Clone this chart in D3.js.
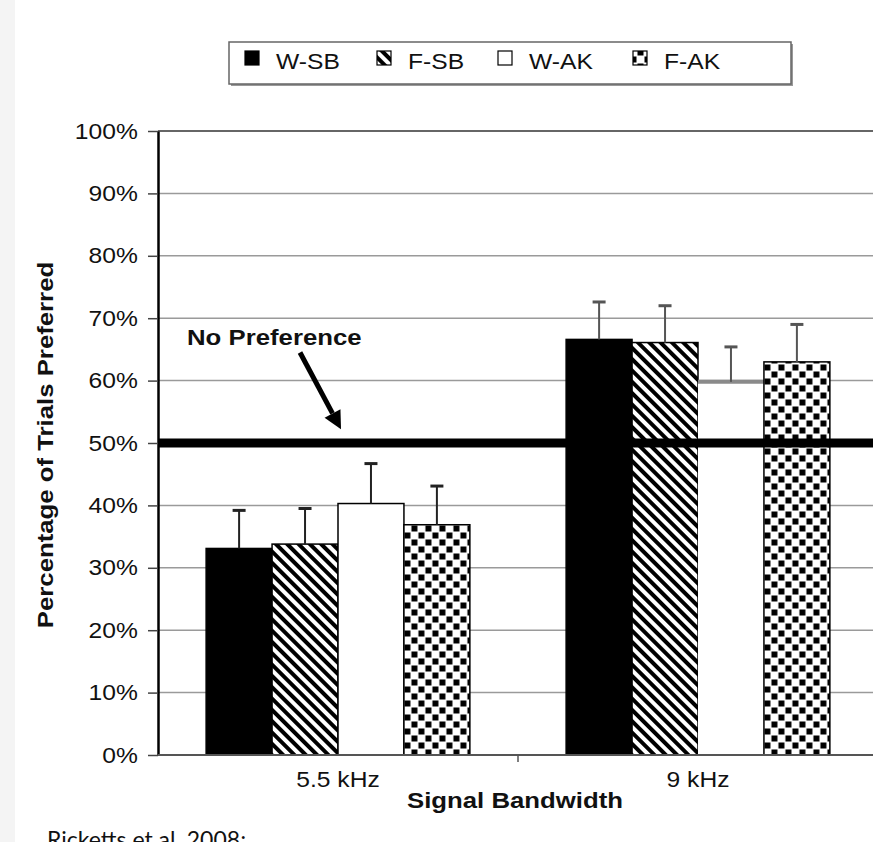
<!DOCTYPE html>
<html>
<head>
<meta charset="utf-8">
<script src="https://cdn.jsdelivr.net/npm/d3@7"></script>
<style>
	html, body { margin:0; padding:0; background:#fff; }
	svg { display:block; }
	text { font-family:"Liberation Sans", Arial, sans-serif; fill:#111; }
</style>
</head>
<body>
<svg id="chart" width="873" height="842"></svg>
<script>
	'use strict';

	// data (percent of trials preferred)
	var categories = ["5.5 kHz", "9 kHz"];
	var series = ["W-SB", "F-SB", "W-AK", "F-AK"];
	var wsbMean = [33.1, 66.6];
	var fsbMean = [33.8, 66.1];
	var wakMean = [40.3, 59.8];
	var fakMean = [36.9, 63.0];
	var wsbErr = [6.1, 6.0];
	var fsbErr = [5.7, 5.9];
	var wakErr = [6.4, 5.6];
	var fakErr = [6.2, 6.0];
	var yTicks = [0, 10, 20, 30, 40, 50, 60, 70, 80, 90, 100];
	var noPreference = 50;

	var means = { "W-SB": wsbMean, "F-SB": fsbMean, "W-AK": wakMean, "F-AK": fakMean };
	var errs = { "W-SB": wsbErr, "F-SB": fsbErr, "W-AK": wakErr, "F-AK": fakErr };

	var SX = 1.12; // the scan's lettering is a bit wider than Arial
	var m = { left:158, top:131, right:878, bottom:755 };

	var svg = d3.select("#chart");
	var defs = svg.append("defs");

	//patterns--------------------------------------------------
	var stripe = defs.append("pattern").attr("id", "stripe")
		.attr("patternUnits", "userSpaceOnUse").attr("width", 8).attr("height", 8)
		.attr("patternTransform", "rotate(-45)");
	stripe.append("rect").attr("width", 8).attr("height", 8).attr("fill", "#fff");
	stripe.append("rect").attr("width", 4).attr("height", 8).attr("fill", "#000");

	var check = defs.append("pattern").attr("id", "check")
		.attr("patternUnits", "userSpaceOnUse").attr("width", 14).attr("height", 14);
	check.append("rect").attr("width", 14).attr("height", 14).attr("fill", "#fff");
	check.append("rect").attr("x", 0.5).attr("y", 0.5).attr("width", 6).attr("height", 6).attr("fill", "#000");
	check.append("rect").attr("x", 7.5).attr("y", 7.5).attr("width", 6).attr("height", 6).attr("fill", "#000");

	var fills = { "W-SB": "#000", "F-SB": "url(#stripe)", "W-AK": "#fff", "F-AK": "url(#check)" };

	function label(g, x, y, str, size, weight, anchor, rot) {
		return g.append("text")
			.attr("transform", "translate(" + x + "," + y + ")" + (rot ? " rotate(" + rot + ")" : "") + " scale(" + SX + ",1)")
			.attr("text-anchor", anchor || "start")
			.style("font-size", size + "px")
			.style("font-weight", weight || "normal")
			.text(str);
	}

	// faint scan edge on the left
	svg.append("rect").attr("x", 0).attr("y", 0).attr("width", 15).attr("height", 842).attr("fill", "#f4f4f4");

	//scales--------------------------------------------------
	var x0 = d3.scaleBand().domain(categories).range([m.left, m.right]);
	var x1 = d3.scaleBand().domain(series).range([0, x0.bandwidth()]).paddingOuter(0.73);
	var y = d3.scaleLinear().domain([0, 100]).range([m.bottom, m.top]);

	//grid
	svg.append("g").selectAll("line").data(yTicks.filter(function(d) { return d > 0; }))
		.enter().append("line")
		.attr("x1", m.left).attr("x2", m.right)
		.attr("y1", function(d) { return y(d); }).attr("y2", function(d) { return y(d); })
		.attr("stroke", function(d) { return d === 100 ? "#666" : "#9a9a9a"; })
		.attr("stroke-width", function(d) { return d === 100 ? 2 : 1.5; });

	//bars
	var rows = [];
	categories.forEach(function(c, ci) {
		series.forEach(function(s) {
			rows.push({ cat:c, ci:ci, s:s, v:means[s][ci], e:errs[s][ci] });
		});
	});

	var bars = svg.append("g").selectAll("g").data(rows).enter().append("g")
		.attr("transform", function(d) { return "translate(" + (x0(d.cat) + x1(d.s)) + ",0)"; });

	bars.append("rect")
		.attr("y", function(d) { return y(d.v); })
		.attr("width", x1.bandwidth())
		.attr("height", function(d) { return y(0) - y(d.v); })
		.attr("fill", function(d) { return fills[d.s]; })
		.attr("stroke", function(d) { return (d.s === "W-AK" && d.ci === 1) ? "none" : "#000"; })
		.attr("stroke-width", 1.5);

	// the second white bar only shows a grey lid in the scan
	bars.filter(function(d) { return d.s === "W-AK" && d.ci === 1; }).append("line")
		.attr("x1", 0).attr("x2", x1.bandwidth())
		.attr("y1", function(d) { return y(d.v); }).attr("y2", function(d) { return y(d.v); })
		.attr("stroke", "#8a8a8a").attr("stroke-width", 4);

	//error bars
	var cx = x1.bandwidth() / 2;
	bars.append("line")
		.attr("x1", cx).attr("x2", cx)
		.attr("y1", function(d) { return y(d.v); })
		.attr("y2", function(d) { return y(d.v + d.e); })
		.attr("stroke", function(d) { return d.ci ? "#555" : "#222"; })
		.attr("stroke-width", 2);
	bars.append("line")
		.attr("x1", cx - 6.5).attr("x2", cx + 6.5)
		.attr("y1", function(d) { return y(d.v + d.e); })
		.attr("y2", function(d) { return y(d.v + d.e); })
		.attr("stroke", function(d) { return d.ci ? "#555" : "#222"; })
		.attr("stroke-width", 3);

	//no preference line
	svg.append("line")
		.attr("x1", m.left).attr("x2", m.right)
		.attr("y1", y(noPreference)).attr("y2", y(noPreference))
		.attr("stroke", "#000").attr("stroke-width", 9);

	//axes--------------------------------------------------
	var yAxis = svg.append("g").attr("transform", "translate(" + m.left + ",0)")
		.call(d3.axisLeft(y).tickValues(yTicks).tickFormat(function(d) { return d + "%"; })
			.tickSize(10).tickSizeOuter(0).tickPadding(8));
	yAxis.select(".domain").attr("stroke", "#000").attr("stroke-width", 2.5);
	yAxis.selectAll(".tick line").attr("stroke", "#444").attr("stroke-width", 1.5);
	yAxis.selectAll(".tick text")
		.attr("transform", "scale(" + SX + ",1)")
		.style("font-size", "22px").style("font-family", "Liberation Sans, Arial, sans-serif").attr("fill", "#222");

	var xg = svg.append("g");
	xg.append("line").attr("x1", m.left).attr("x2", m.right)
		.attr("y1", y(0)).attr("y2", y(0)).attr("stroke", "#555").attr("stroke-width", 2);
	xg.selectAll(".xt").data(categories.slice(1).map(function(c) { return x0(c); }))
		.enter().append("line").attr("class", "xt")
		.attr("x1", function(d) { return d; }).attr("x2", function(d) { return d; })
		.attr("y1", y(0)).attr("y2", y(0) + 7)
		.attr("stroke", "#555").attr("stroke-width", 1.5);
	categories.forEach(function(c) {
		label(xg, x0(c) + x0.bandwidth() / 2, 787, c, 22, "normal", "middle").attr("fill", "#222");
	});

	label(svg, 515, 808, "Signal Bandwidth", 23, "bold", "middle");
	label(svg, 53, (m.top + m.bottom) / 2 + 2, "Percentage of Trials Preferred", 23, "bold", "middle", -90);

	//annotation
	label(svg, m.left + 29, y(65.7), "No Preference", 23, "bold", "start");
	var tail = [m.left + 142, y(64.5)], tip = [m.left + 183, y(52.2)];
	var ang = Math.atan2(tip[1] - tail[1], tip[0] - tail[0]);
	var head = 18, half = 9;
	var base = [tip[0] - head * Math.cos(ang), tip[1] - head * Math.sin(ang)];
	svg.append("line")
		.attr("x1", tail[0]).attr("y1", tail[1]).attr("x2", base[0]).attr("y2", base[1])
		.attr("stroke", "#000").attr("stroke-width", 5);
	svg.append("path")
		.attr("d", d3.line()([
			tip,
			[base[0] + half * Math.sin(ang), base[1] - half * Math.cos(ang)],
			[base[0] - half * Math.sin(ang), base[1] + half * Math.cos(ang)]
		]) + "Z")
		.attr("fill", "#000");

	//legend--------------------------------------------------
	var lg = svg.append("g");
	lg.append("rect").attr("x", 231).attr("y", 44).attr("width", 562).attr("height", 42).attr("fill", "#999");
	lg.append("rect").attr("x", 229).attr("y", 42).attr("width", 562).attr("height", 42)
		.attr("fill", "#fff").attr("stroke", "#666").attr("stroke-width", 1.5);
	var legX = [245, 377, 498, 633];
	series.forEach(function(s, i) {
		lg.append("rect").attr("x", legX[i]).attr("y", 51).attr("width", 14).attr("height", 14)
			.attr("fill", fills[s]).attr("stroke", "#000").attr("stroke-width", 1.2);
		label(lg, legX[i] + 31, 69, s, 22, "normal", "start").attr("fill", "#222");
	});

	// caption fragment cut by the bottom edge
	svg.append("text").attr("x", 47).attr("y", 848)
		.style("font-family", "Lato, 'Open Sans', sans-serif").style("font-size", "23px")
		.attr("fill", "#222").text("Ricketts et al. 2008;");
</script>
</body>
</html>
